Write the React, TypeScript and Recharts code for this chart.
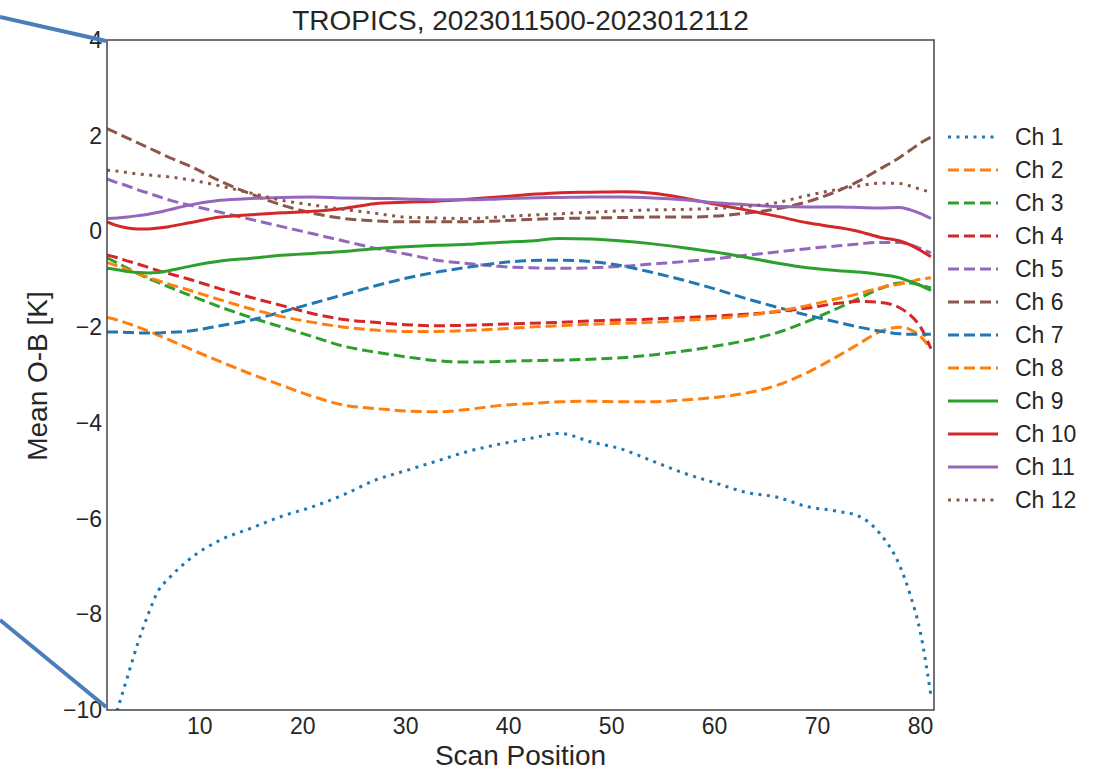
import React from "react";
import { LineChart, Line, XAxis, YAxis } from "recharts";

// Scan positions at which the mean O-B values are sampled
const SCAN_POS = [1, 2, 3, 4, 5, 6, 7, 9, 12, 15, 18, 21, 24, 27, 30, 33, 36, 39, 42, 45, 48, 51, 54, 57, 60, 63, 66, 69, 72, 74, 76, 78, 79, 80, 81];

const CH1 = [-10.7, -10.0, -9.3, -8.6, -8.0, -7.5, -7.25, -6.85, -6.45, -6.2, -5.95, -5.75, -5.5, -5.2, -5.0, -4.8, -4.6, -4.45, -4.33, -4.22, -4.4, -4.55, -4.8, -5.05, -5.25, -5.45, -5.55, -5.75, -5.85, -5.95, -6.3, -7.0, -7.6, -8.4, -9.7];
const CH2 = [-1.8, -1.85, -1.92, -2.0, -2.08, -2.17, -2.26, -2.45, -2.72, -2.98, -3.22, -3.45, -3.63, -3.7, -3.75, -3.77, -3.72, -3.64, -3.6, -3.56, -3.55, -3.56, -3.56, -3.52, -3.47, -3.38, -3.22, -2.95, -2.6, -2.35, -2.1, -2.0, -2.05, -2.2, -2.45];
const CH3 = [-0.55, -0.66, -0.77, -0.88, -0.98, -1.07, -1.16, -1.33, -1.58, -1.8, -2.0, -2.2, -2.4, -2.52, -2.62, -2.7, -2.73, -2.72, -2.7, -2.69, -2.67, -2.64, -2.58, -2.5, -2.4, -2.28, -2.12, -1.88, -1.6, -1.4, -1.2, -1.08, -1.08, -1.12, -1.18];
const CH4 = [-0.49, -0.55, -0.62, -0.68, -0.75, -0.82, -0.88, -1.0, -1.2, -1.38, -1.55, -1.72, -1.84, -1.9, -1.95, -1.97, -1.96, -1.94, -1.92, -1.9, -1.87, -1.85, -1.83, -1.8, -1.77, -1.73, -1.68, -1.6, -1.5, -1.46, -1.48, -1.6, -1.75, -2.0, -2.45];
const CH5 = [1.1, 1.02, 0.95, 0.87, 0.8, 0.73, 0.66, 0.55, 0.4, 0.25, 0.1, -0.05, -0.2, -0.35, -0.47, -0.6, -0.67, -0.73, -0.76, -0.77, -0.76, -0.73, -0.68, -0.63, -0.57, -0.5, -0.43, -0.36, -0.3, -0.26, -0.23, -0.23, -0.28, -0.36, -0.45];
const CH6 = [2.15, 2.05, 1.95, 1.85, 1.75, 1.65, 1.55, 1.37, 1.05, 0.78, 0.55, 0.38, 0.27, 0.22, 0.2, 0.2, 0.2, 0.22, 0.25, 0.27, 0.28, 0.29, 0.3, 0.3, 0.32, 0.38, 0.47, 0.62, 0.85, 1.05, 1.3, 1.55, 1.7, 1.85, 1.97];
const CH7 = [-2.1, -2.1, -2.11, -2.12, -2.12, -2.12, -2.11, -2.08, -1.97, -1.85, -1.68, -1.5, -1.32, -1.14, -0.98, -0.85, -0.75, -0.66, -0.61, -0.6, -0.63, -0.72, -0.86, -1.02, -1.2, -1.4, -1.58, -1.75, -1.9, -2.0, -2.08, -2.14, -2.15, -2.15, -2.15];
const CH8 = [-0.65, -0.72, -0.8, -0.88, -0.96, -1.03, -1.1, -1.23, -1.43, -1.62, -1.78, -1.9, -2.0, -2.06, -2.09, -2.09, -2.07, -2.04, -2.0, -1.97, -1.94, -1.92, -1.9, -1.86, -1.82, -1.76, -1.67, -1.55, -1.4, -1.3, -1.18, -1.1, -1.05, -1.0, -0.97];
const CH9 = [-0.77, -0.8, -0.84, -0.86, -0.87, -0.86, -0.82, -0.73, -0.62, -0.56, -0.5, -0.46, -0.42, -0.36, -0.32, -0.29, -0.27, -0.23, -0.2, -0.15, -0.16, -0.2, -0.26, -0.34, -0.43, -0.54, -0.66, -0.76, -0.82, -0.85, -0.9, -0.97, -1.05, -1.13, -1.23];
const CH10 = [0.2, 0.12, 0.07, 0.05, 0.05, 0.07, 0.1, 0.18, 0.3, 0.35, 0.39, 0.42, 0.48, 0.58, 0.61, 0.63, 0.67, 0.72, 0.77, 0.81, 0.82, 0.83, 0.8, 0.7, 0.57, 0.45, 0.32, 0.18, 0.08, 0.0, -0.12, -0.2, -0.28, -0.4, -0.53];
const CH11 = [0.27, 0.28, 0.3, 0.33, 0.36, 0.4, 0.45, 0.55, 0.65, 0.69, 0.71, 0.72, 0.7, 0.69, 0.68, 0.66, 0.66, 0.68, 0.7, 0.71, 0.72, 0.72, 0.7, 0.66, 0.6, 0.56, 0.52, 0.51, 0.51, 0.5, 0.49, 0.5, 0.45, 0.37, 0.27];
const CH12 = [1.28, 1.26, 1.23, 1.2, 1.18, 1.16, 1.14, 1.08, 0.95, 0.8, 0.65, 0.55, 0.46, 0.38, 0.3, 0.28, 0.27, 0.3, 0.34, 0.37, 0.4, 0.43, 0.45, 0.46, 0.48, 0.52, 0.6, 0.75, 0.88, 0.95, 1.01, 1.0, 0.95, 0.88, 0.82];

const X_TICKS = [10, 20, 30, 40, 50, 60, 70, 80];
const Y_TICKS = [4, 2, 0, -2, -4, -6, -8, -10];

const TITLE = "TROPICS, 2023011500-2023012112";
const X_LABEL = "Scan Position";
const Y_LABEL = "Mean O-B [K]";

const BLUE = "#1f77b4";
const ORANGE = "#ff7f0e";
const GREEN = "#2ca02c";
const RED = "#d62728";
const PURPLE = "#9467bd";
const BROWN = "#8c564b";

const DOT = "3 5.5";
const DASH = "11 5";

type Series = { key: string; name: string; values: number[]; color: string; dash?: string };

const SERIES: Series[] = [
  { key: "ch1", name: "Ch 1", values: CH1, color: BLUE, dash: DOT },
  { key: "ch2", name: "Ch 2", values: CH2, color: ORANGE, dash: DASH },
  { key: "ch3", name: "Ch 3", values: CH3, color: GREEN, dash: DASH },
  { key: "ch4", name: "Ch 4", values: CH4, color: RED, dash: DASH },
  { key: "ch5", name: "Ch 5", values: CH5, color: PURPLE, dash: DASH },
  { key: "ch6", name: "Ch 6", values: CH6, color: BROWN, dash: DASH },
  { key: "ch7", name: "Ch 7", values: CH7, color: BLUE, dash: DASH },
  { key: "ch8", name: "Ch 8", values: CH8, color: ORANGE, dash: DASH },
  { key: "ch9", name: "Ch 9", values: CH9, color: GREEN },
  { key: "ch10", name: "Ch 10", values: CH10, color: RED },
  { key: "ch11", name: "Ch 11", values: CH11, color: PURPLE },
  { key: "ch12", name: "Ch 12", values: CH12, color: BROWN, dash: DOT },
];

const rows = SCAN_POS.map((pos, i) => {
  const row: Record<string, number> = { pos };
  SERIES.forEach((s) => {
    row[s.key] = s.values[i];
  });
  return row;
});

const FONT = "'Liberation Sans', Arial, sans-serif";
const TEXT = "#262626";
const FRAME = "#444444";

const W = 1098;
const H = 770;
const PLOT_LEFT = 107;
const PLOT_TOP = 40;
const PLOT_RIGHT = 934;
const PLOT_BOTTOM = 710;
const Y_AXIS_W = 70;
const X_AXIS_H = 60;

const fmt = (v: number) => String(v).replace("-", "\u2212");

function XTick(props: any) {
  const { x, payload } = props;
  return (
    <text x={x} y={PLOT_BOTTOM + 24} textAnchor="middle" fontSize={23} fontFamily={FONT} fill={TEXT}>
      {fmt(payload.value)}
    </text>
  );
}

function YTick(props: any) {
  const { y, payload } = props;
  return (
    <text x={PLOT_LEFT - 5} y={y + 8} textAnchor="end" fontSize={23} fontFamily={FONT} fill={TEXT}>
      {fmt(payload.value)}
    </text>
  );
}

function LegendBox() {
  const rowGap = 33;
  return (
    <svg width={160} height={420} style={{ position: "absolute", left: 940, top: 112 }}>
      {SERIES.map((s, i) => {
        const y = 25 + i * rowGap;
        return (
          <g key={s.key}>
            <line x1={8} x2={58} y1={y} y2={y} stroke={s.color} strokeWidth={3} strokeDasharray={s.dash} />
            <text x={75} y={y + 8} fontSize={23} fontFamily={FONT} fill={TEXT}>
              {s.name}
            </text>
          </g>
        );
      })}
    </svg>
  );
}

export default function App() {
  return (
    <div style={{ position: "absolute", left: 0, top: 0, width: W, height: H, background: "#fff" }}>
      <LineChart
        width={W}
        height={H}
        data={rows}
        margin={{
          top: PLOT_TOP,
          left: PLOT_LEFT - Y_AXIS_W,
          right: W - PLOT_RIGHT,
          bottom: H - PLOT_BOTTOM - X_AXIS_H,
        }}
      >
        <XAxis
          dataKey="pos"
          type="number"
          domain={[1, 81.3]}
          allowDataOverflow
          ticks={X_TICKS}
          tickLine={false}
          axisLine={false}
          height={X_AXIS_H}
          tick={<XTick />}
        />
        <YAxis
          type="number"
          domain={[-10, 4]}
          allowDataOverflow
          ticks={Y_TICKS}
          tickLine={false}
          axisLine={false}
          width={Y_AXIS_W}
          tick={<YTick />}
        />
        {SERIES.map((s) => (
          <Line
            key={s.key}
            dataKey={s.key}
            name={s.name}
            type="monotone"
            stroke={s.color}
            strokeWidth={3}
            strokeDasharray={s.dash}
            dot={false}
            activeDot={false}
            isAnimationActive={false}
          />
        ))}
      </LineChart>

      <svg width={W} height={H} style={{ position: "absolute", left: 0, top: 0, pointerEvents: "none" }}>
        {/* plot frame */}
        <rect
          x={PLOT_LEFT}
          y={PLOT_TOP}
          width={PLOT_RIGHT - PLOT_LEFT}
          height={PLOT_BOTTOM - PLOT_TOP}
          fill="none"
          stroke={FRAME}
          strokeWidth={1.5}
        />
        <text x={(PLOT_LEFT + PLOT_RIGHT) / 2} y={30} textAnchor="middle" fontSize={28} fontFamily={FONT} fill={TEXT}>
          {TITLE}
        </text>
        <text x={(PLOT_LEFT + PLOT_RIGHT) / 2} y={765} textAnchor="middle" fontSize={28} fontFamily={FONT} fill={TEXT}>
          {X_LABEL}
        </text>
        <text
          transform={`translate(47, ${(PLOT_TOP + PLOT_BOTTOM) / 2 + 1}) rotate(-90)`}
          textAnchor="middle"
          fontSize={28}
          fontFamily={FONT}
          fill={TEXT}
        >
          {Y_LABEL}
        </text>
        {/* callout connectors leading into the plot corners */}
        <line x1={0} y1={17} x2={106} y2={41} stroke="#4a7ebb" strokeWidth={4} />
        <line x1={0} y1={620} x2={106} y2={707} stroke="#4a7ebb" strokeWidth={4} />
      </svg>

      <LegendBox />
    </div>
  );
}
